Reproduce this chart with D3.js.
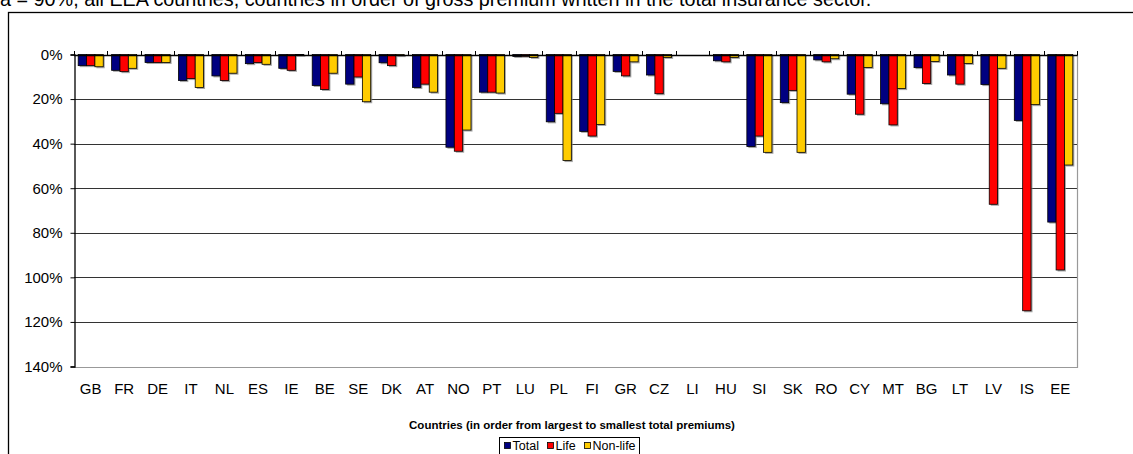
<!DOCTYPE html>
<html><head><meta charset="utf-8">
<script src="https://cdn.jsdelivr.net/npm/d3@7"></script>
<style>html,body{margin:0;padding:0;background:#fff;overflow:hidden}svg{display:block;font-family:"Liberation Sans",Arial,sans-serif}</style>
</head><body>
<svg id="c" width="1133" height="454"></svg>
<script>
const countries = ["GB","FR","DE","IT","NL","ES","IE","BE","SE","DK","AT","NO","PT","LU","PL","FI","GR","CZ","LI","HU","SI","SK","RO","CY","MT","BG","LT","LV","IS","EE"];
const totalVals = [5.0,7.1,3.6,11.7,9.6,4.1,6.2,13.9,13.3,3.7,14.8,41.6,16.9,0.9,30.2,34.5,7.6,9.2,0,2.8,41.3,21.6,2.4,17.8,22.1,5.9,9.2,13.5,29.6,75.2];
const lifeVals  = [5.0,7.7,3.6,10.8,11.7,3.6,7.1,15.7,10.1,5.0,13.3,43.4,16.9,0.8,26.4,36.6,9.6,17.6,0,3.3,36.6,16.1,3.3,26.8,31.6,13.0,13.3,67.2,115.0,96.7];
const nonLifeVals=[5.5,6.2,3.6,14.8,8.4,4.4,0.3,8.4,21.2,0.5,16.9,33.9,17.3,1.3,47.6,31.4,3.3,1.3,0,1.3,43.9,43.9,1.9,5.8,15.3,3.1,4.0,6.2,22.5,49.6];
const seriesNames = ["Total","Life","Non-life"];
const seriesColors = ["#000080","#FF0000","#FFCC00"];
const yTicks = [0,20,40,60,80,100,120,140];
const titleText = "a = 90%, all EEA countries, countries in order of gross premium written in the total insurance sector.";
const xTitle = "Countries (in order from largest to smallest total premiums)";

const svg = d3.select("#c");
const L = 74, R = 1077, T = 54.5, B = 366.5;

// outer frame
svg.append("rect").attr("x",8.5).attr("y",12.5).attr("width",1140).attr("height",460)
  .attr("fill","none").attr("stroke","#000").attr("stroke-width",1.3);
// title (cut at top, as in the reference)
svg.append("text").attr("x",0).attr("y",5.5).attr("font-size",19.8).attr("fill","#000").text(titleText);

const y = d3.scaleLinear().domain([0,140]).range([T,B]);
const x = d3.scaleBand().domain(countries).range([L,R]).paddingInner(0.25).paddingOuter(0.125);
const xs = d3.scaleBand().domain(seriesNames).range([0,x.bandwidth()]);

// gridlines
svg.append("g").selectAll("line").data(yTicks.slice(1,-1)).join("line")
  .attr("x1",L).attr("x2",R).attr("y1",d=>Math.round(y(d))+0.5).attr("y2",d=>Math.round(y(d))+0.5)
  .attr("stroke","#333").attr("stroke-width",1);
// plot border right & bottom (gray)
svg.append("path").attr("d",`M${L},${Math.round(B)+0.5}H${R+0.5}V${T}`)
  .attr("fill","none").attr("stroke","#999").attr("stroke-width",1.2);

// bars
const data = countries.map((c,i)=>({c, vals:[totalVals[i],lifeVals[i],nonLifeVals[i]]}));
const g = svg.append("g");
data.forEach(d=>{
  d.vals.forEach((v,j)=>{
    if(v<=0) return;
    const bx = x(d.c)+xs(seriesNames[j]);
    const h = y(v)-y(0);
    g.append("rect").attr("x",bx+1.5).attr("y",y(0)+1.5).attr("width",xs.bandwidth()).attr("height",h)
      .attr("fill","#808080").attr("opacity",0.7);
  });
  d.vals.forEach((v,j)=>{
    if(v<=0) return;
    const bx = x(d.c)+xs(seriesNames[j]);
    g.append("rect").attr("x",bx).attr("y",y(0)).attr("width",xs.bandwidth()).attr("height",y(v)-y(0))
      .attr("fill",seriesColors[j]).attr("stroke","#000").attr("stroke-width",0.8);
  });
});

// y axis
const yAxis = d3.axisLeft(y).tickValues(yTicks).tickFormat(d=>d+"%").tickSize(4).tickPadding(8);
const ya = svg.append("g").attr("transform",`translate(${L+0.5},0)`).call(yAxis);
ya.select(".domain").attr("stroke","#000").attr("stroke-width",1.3);
ya.selectAll(".tick line").attr("stroke","#000");
ya.selectAll("text").attr("font-size",15).attr("fill","#000").attr("font-family","Liberation Sans, Arial, sans-serif");

// top zero axis with upward ticks at category boundaries
const boundaries = countries.map(c=>x(c)-x.step()*x.paddingInner()/2).concat([R]);
svg.append("line").attr("x1",L).attr("x2",R+0.5).attr("y1",Math.round(y(0))+0.5).attr("y2",Math.round(y(0))+0.5)
  .attr("stroke","#000").attr("stroke-width",1.3);
svg.append("g").selectAll("line").data(boundaries).join("line")
  .attr("x1",d=>Math.round(d)+0.5).attr("x2",d=>Math.round(d)+0.5)
  .attr("y1",Math.round(y(0))-4).attr("y2",Math.round(y(0))+0.5)
  .attr("stroke","#000").attr("stroke-width",1);

// x labels
svg.append("g").selectAll("text").data(countries).join("text")
  .attr("x",d=>x(d)+x.bandwidth()/2).attr("y",394).attr("text-anchor","middle")
  .attr("font-size",15).attr("fill","#000").text(d=>d);

// x title
svg.append("text").attr("x",572).attr("y",428.5).attr("text-anchor","middle")
  .attr("font-size",11.5).attr("font-weight","bold").attr("fill","#000").text(xTitle);

// legend
const lg = svg.append("g");
lg.append("rect").attr("x",499.5).attr("y",437.5).attr("width",140).attr("height",24)
  .attr("fill","#fff").attr("stroke","#000").attr("stroke-width",1);
const legX = [504,547,584];
seriesNames.forEach((n,i)=>{
  lg.append("rect").attr("x",legX[i]+0.5).attr("y",442.5).attr("width",6).attr("height",6)
    .attr("fill",seriesColors[i]).attr("stroke","#000").attr("stroke-width",0.8);
  lg.append("text").attr("x",legX[i]+8.5).attr("y",450).attr("font-size",12.5).attr("fill","#000").text(n);
});
</script>
</body></html>
